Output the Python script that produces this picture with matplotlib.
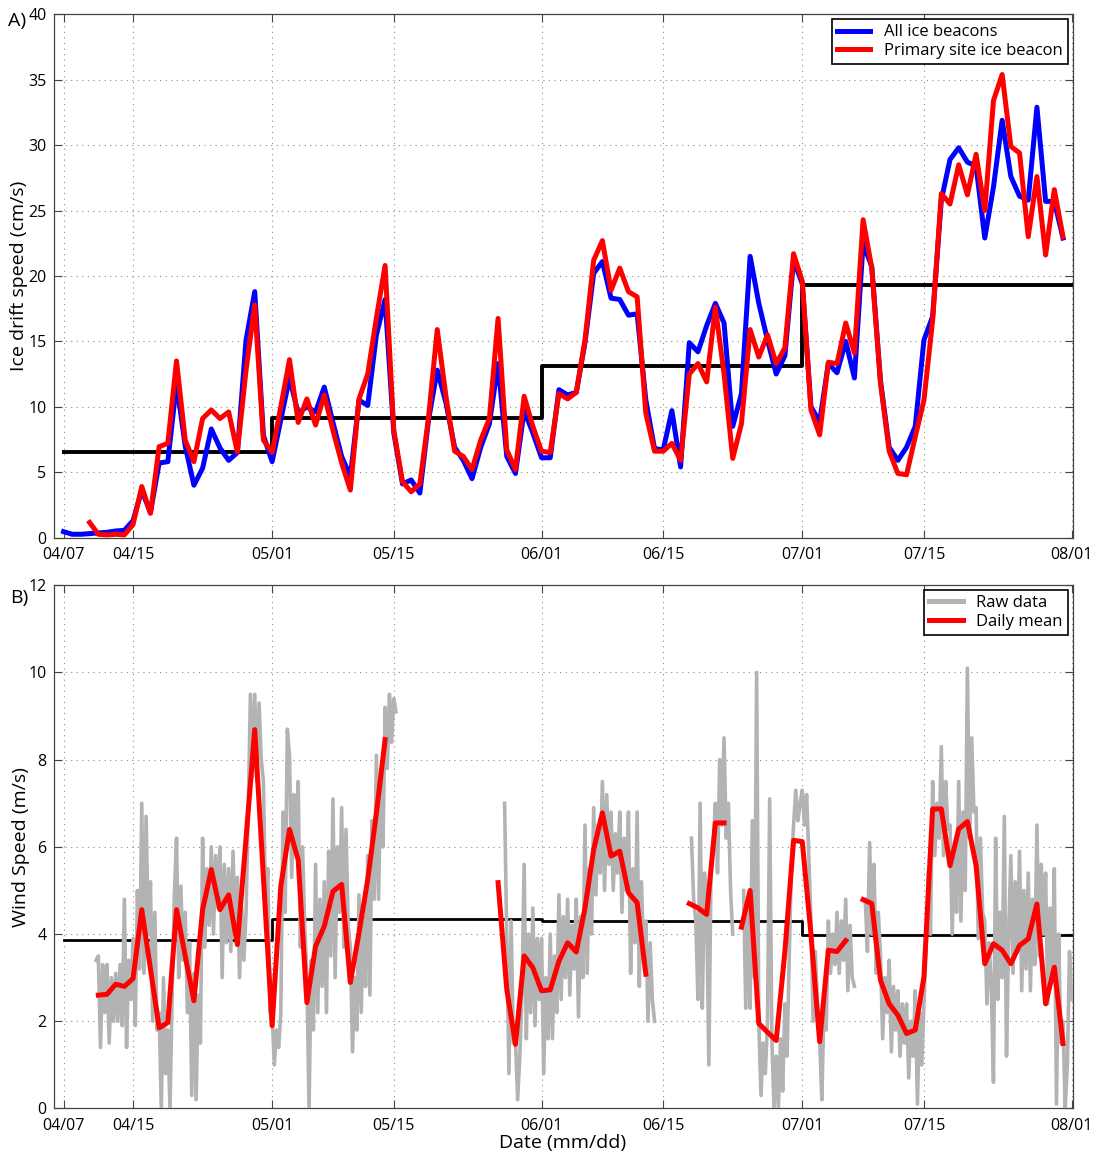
import numpy as np
import matplotlib.pyplot as plt

plt.rcParams['font.family'] = ['Open Sans', 'DejaVu Sans']

nan = float('nan')

# x axis: day of year
tick_days = [97, 105, 121, 135, 152, 166, 182, 196, 213]
tick_labels = ['04/07', '04/15', '05/01', '05/15', '06/01', '06/15', '07/01', '07/15', '08/01']

# ---- panel A: ice drift speed (cm/s), daily ----
blue_start = 97
all_beacons = [0.45, 0.25, 0.25, 0.3, 0.35, 0.4, 0.5, 0.55, 1.3, 3.6,
               1.9, 5.7, 5.8, 11.8, 7.0, 4.0, 5.3, 8.3, 6.85, 5.9,
               6.5, 15.1, 18.8, 7.8, 5.8, 9.0, 12.2, 9.5, 10.0, 9.6,
               11.5, 8.8, 6.2, 4.65, 10.5, 10.1, 15.5, 18.2, 8.0, 4.1,
               4.4, 3.4, 9.0, 12.8, 10.3, 6.9, 5.9, 4.5, 6.9, 8.7,
               13.3, 6.2, 4.9, 9.7, 8.0, 6.1, 6.1, 11.3, 10.9, 11.1,
               14.9, 20.2, 21.1, 18.3, 18.2, 17.0, 17.1, 10.5, 6.8, 6.7,
               9.7, 5.4, 14.9, 14.2, 16.2, 17.9, 16.4, 8.5, 11.0, 21.5,
               17.9, 15.1, 12.5, 13.9, 21.2, 19.4, 10.0, 8.85, 13.3, 12.6,
               15.0, 12.2, 22.5, 20.7, 12.0, 6.9, 5.9, 6.9, 8.5, 15.1,
               16.9, 25.8, 28.9, 29.8, 28.7, 28.4, 22.9, 26.8, 31.9, 27.6,
               26.1, 25.8, 32.9, 25.7, 25.7, 22.9]

red_start = 100
primary = [1.15, 0.25, 0.2, 0.25, 0.2, 1.0, 3.9, 1.85, 6.95, 7.2,
           13.5, 7.45, 5.8, 9.1, 9.75, 9.1, 9.6, 6.55, 12.8, 17.8,
           7.45, 6.5, 10.0, 13.6, 8.8, 10.6, 8.6, 10.9, 8.2, 5.7,
           3.63, 10.6, 12.5, 16.8, 20.8, 8.2, 4.27, 3.5, 4.1, 9.2,
           15.9, 10.8, 6.6, 6.2, 5.2, 7.45, 9.1, 16.75, 6.7, 5.2,
           10.8, 8.5, 6.6, 6.5, 11.0, 10.6, 11.1, 15.1, 21.2, 22.7,
           18.9, 20.6, 18.8, 18.4, 9.5, 6.6, 6.6, 7.2, 5.9, 12.5,
           13.3, 11.9, 17.6, 12.5, 6.05, 8.7, 15.9, 13.8, 15.5, 13.3,
           14.5, 21.7, 19.6, 9.75, 7.85, 13.4, 13.3, 16.4, 14.1, 24.3,
           20.6, 11.8, 6.6, 4.9, 4.8, 7.7, 10.5, 16.6, 26.3, 25.5,
           28.5, 26.2, 29.3, 25.0, 33.4, 35.4, 29.9, 29.4, 23.0, 27.6,
           21.6, 26.6, 23.0]

month_edges = [97, 121, 152, 182, 213]
ice_monthly = [6.55, 9.15, 13.1, 19.3]

# ---- panel B: wind speed (m/s) ----
step = 0.25  # raw samples every 6 h
raw_starts = [100.75, 147.75, 169.25, 175.25, 189.25]
raw_a = [3.4,
         3.5, 1.4, 3.3, 2.2, 3.3, 1.5, 3.0, 2.0, 3.1, 2.0, 3.3, 1.9,
         4.8, 1.4, 3.4, 2.5, 3.9, 1.9, 5.0, 3.2, 7.0, 3.1, 6.7, 4.0,
         5.2, 2.0, 4.5, 1.8, 2.2, 0.0, 3.0, 0.8, 1.8, 0.0, 2.6, 4.9,
         6.2, 3.0, 5.1, 3.4, 4.5, 2.2, 3.8, 0.3, 3.1, 0.2, 2.6, 1.5,
         6.2, 3.7, 5.5, 4.2, 6.0, 4.0, 5.8, 4.6, 6.0, 3.0, 5.6, 3.8,
         5.5, 3.6, 5.9, 4.0, 5.3, 3.0, 4.6, 3.4, 4.5, 6.8, 9.5, 7.6,
         9.5, 7.5, 9.3, 8.0, 7.5, 4.5, 5.5, 2.2, 2.2, 1.0, 1.8, 1.4,
         2.2, 6.8, 4.5, 8.7, 8.1, 5.3, 7.2, 6.0, 7.5, 3.7, 6.0, 4.2,
         3.0, 0.0, 3.4, 1.8, 5.6, 2.2, 4.8, 2.8, 5.2, 2.2, 5.9, 3.5,
         7.1, 3.0, 6.0, 4.5, 6.9, 3.7, 6.4, 4.2, 3.7, 1.3, 3.0, 1.8,
         4.9, 2.2, 4.4, 2.8, 5.8, 2.6, 6.6, 4.8, 8.1, 4.8, 7.6, 6.0,
         9.2, 7.8, 9.5, 8.4, 9.4, 9.1]
raw_b = [7.0,
         3.9, 0.8, 4.3, 1.5, 1.6, 0.2, 1.2, 2.6, 5.6, 1.6, 4.0, 2.2,
         4.6, 1.9, 3.9, 2.5, 3.9, 0.8, 3.0, 1.6, 4.0, 1.6, 3.5, 2.2,
         4.9, 2.5, 4.4, 3.0, 4.8, 2.6, 4.2, 3.2, 4.8, 2.1, 4.4, 3.0,
         6.5, 3.1, 5.5, 4.0, 6.9, 4.9, 6.5, 5.4, 7.5, 5.0, 7.2, 5.6,
         6.8, 5.0, 6.3, 5.4, 6.8, 4.5, 6.2, 5.0, 6.8, 3.1, 5.5, 3.8,
         6.8, 2.8, 5.2, 3.4, 4.3, 2.0, 3.8, 2.5, 2.0]
raw_c = [6.2, 4.8, 4.3,
         2.5, 7.0, 2.3, 5.4, 4.6, 1.0, 5.5, 6.0,
         7.0, 5.4, 8.0, 6.5, 8.5, 6.2, 7.0, 5.0, 4.0]
raw_d = [5.0, 2.3, 4.6,
         2.3, 6.6, 3.0, 10.0, 2.0, 0.3, 1.5, 0.8, 2.0, 7.1, 1.6, 0.0,
         1.2, 0.0, 1.6, 0.4, 2.4, 1.2, 3.5, 5.5, 6.5, 7.3, 6.6, 7.0,
         7.3, 6.5, 7.2, 5.8, 4.3, 2.0, 3.6, 2.4, 1.6, 0.2, 2.4, 1.8,
         4.3, 3.1, 4.0, 3.3, 4.5, 3.1, 4.3, 3.4, 4.8, 2.7, 4.2, 3.0,
         2.8]
raw_e = [4.8, 3.6, 6.1,
         4.0, 5.6, 3.1, 4.5, 3.5, 1.6, 3.0, 2.2, 3.4, 1.3, 2.8, 1.8,
         2.7, 1.2, 2.4, 1.5, 2.4, 0.7, 2.0, 1.2, 2.7, 0.1, 2.2, 1.0,
         2.4, 3.7, 5.4, 4.0, 7.5, 5.8, 7.0, 6.2, 8.3, 5.8, 7.5, 6.4,
         6.5, 4.0, 6.0, 4.5, 7.5, 4.3, 6.8, 5.0, 10.1, 6.2, 8.5, 6.8,
         6.9, 3.9, 6.2, 4.5, 4.3, 2.4, 3.8, 2.8, 0.6, 6.2, 2.5, 4.5,
         3.0, 6.7, 1.2, 4.0, 5.8, 3.1, 5.2, 3.6, 5.9, 2.7, 5.0, 3.2,
         5.4, 2.7, 4.8, 3.3, 6.5, 3.5, 5.6, 4.0, 5.4, 2.4, 4.6, 2.9,
         5.5, 0.1, 4.0, 1.5, 2.0, 0.0, 1.0, 3.6, 2.5]
raw_segments = [raw_a, raw_b, raw_c, raw_d, raw_e]

mean_start = 101
wind_daily = [2.6, 2.62, 2.85, 2.8, 2.98, 4.56, 3.2, 1.85, 1.97, 4.56,
              3.5, 2.47, 4.56, 5.48, 4.56, 4.9, 3.76, 6.2, 8.69, 5.3,
              1.9, 5.1, 6.4, 5.7, 2.43, 3.72, 4.18, 4.98, 5.14, 2.89,
              4.03, 5.25, 6.78, 8.46,
              nan, nan, nan, nan, nan, nan, nan, nan, nan, nan, nan, nan,
              5.18, 2.73, 1.47, 3.5, 3.23, 2.7, 2.72, 3.38, 3.8, 3.59,
              4.6, 5.94, 6.78, 5.79, 5.9, 4.95, 4.72, 3.08,
              nan, nan, nan, nan,
              4.7, 4.6, 4.45, 6.55, 6.55,
              nan,
              4.16, 5.0, 1.95, 1.75, 1.56, 3.6, 6.15, 6.12, 4.0, 1.53,
              3.63, 3.6, 3.85,
              nan,
              4.79, 4.7, 2.94, 2.4, 2.14, 1.72, 1.8, 3.02, 6.87, 6.87,
              5.57, 6.41, 6.58, 5.57, 3.32, 3.78, 3.63, 3.32, 3.74, 3.89,
              4.69, 2.4, 3.24, 1.49]

wind_monthly = [3.87, 4.35, 4.3, 3.98]


def matlab_style(ax, ymax, ystep):
    ax.set_xlim(95.85, 213.1)
    ax.set_ylim(0, ymax)
    ax.set_xticks(tick_days)
    ax.set_xticklabels(tick_labels)
    ax.set_yticks(np.arange(0, ymax + 0.01, ystep))
    ax.tick_params(direction='in', top=True, right=True, length=6,
                   width=0.8, color='#444444', labelsize=11.5)
    ax.tick_params(axis='x', pad=6.5)
    ax.tick_params(axis='y', pad=5)
    ax.grid(True, linestyle=(0, (1, 4)), color='#8a8a8a', linewidth=0.8)
    for s in ax.spines.values():
        s.set_color('#444444')
        s.set_linewidth(0.9)


fig = plt.figure(figsize=(10.95, 11.56), dpi=100)
ax1 = fig.add_axes([0.0489, 0.535, 0.9306, 0.4526])
ax2 = fig.add_axes([0.0489, 0.0411, 0.9306, 0.4526])

# panel A
x_blue = blue_start + np.arange(len(all_beacons))
x_red = red_start + np.arange(len(primary))
ax1.plot(month_edges, ice_monthly + ice_monthly[-1:], drawstyle='steps-post',
         color='black', lw=2.8, zorder=2)
ax1.plot(x_blue, all_beacons, color='blue', lw=3.6, label='All ice beacons', zorder=3)
ax1.plot(x_red, primary, color='red', lw=3.6, label='Primary site ice beacon', zorder=4)
matlab_style(ax1, 40, 5)
ax1.set_ylabel('Ice drift speed (cm/s)', fontsize=14, labelpad=0)
leg1 = ax1.legend(loc='upper right', fancybox=False, edgecolor='black',
                  framealpha=1, fontsize=12, handlelength=2.0,
                  borderaxespad=0.3, borderpad=0.3, labelspacing=0.15)
leg1.get_frame().set_linewidth(1.2)

# panel B
ax2.plot(month_edges, wind_monthly + wind_monthly[-1:], drawstyle='steps-post',
         color='black', lw=2.0, zorder=2)
for i, (st, seg) in enumerate(zip(raw_starts, raw_segments)):
    xs = st + step * np.arange(len(seg))
    ax2.plot(xs, seg, color='#b3b3b3', lw=2.6, zorder=3,
             label='Raw data' if i == 0 else None)
x_mean = mean_start + np.arange(len(wind_daily))
ax2.plot(x_mean, wind_daily, color='red', lw=3.6, label='Daily mean', zorder=4)
matlab_style(ax2, 12, 2)
ax2.set_ylabel('Wind Speed (m/s)', fontsize=14, labelpad=-1)
ax2.set_xlabel('Date (mm/dd)', fontsize=14, labelpad=0)
leg2 = ax2.legend(loc='upper right', fancybox=False, edgecolor='black',
                  framealpha=1, fontsize=12, handlelength=2.0,
                  borderaxespad=0.3, borderpad=0.3, labelspacing=0.15)
leg2.get_frame().set_linewidth(1.2)
for line in leg2.get_lines():
    line.set_linewidth(3.6)

fig.text(0.007, 0.982, 'A)', fontsize=14, va='center', ha='left')
fig.text(0.009, 0.483, 'B)', fontsize=14, va='center', ha='left')

fig.savefig('out.png', dpi=100)
